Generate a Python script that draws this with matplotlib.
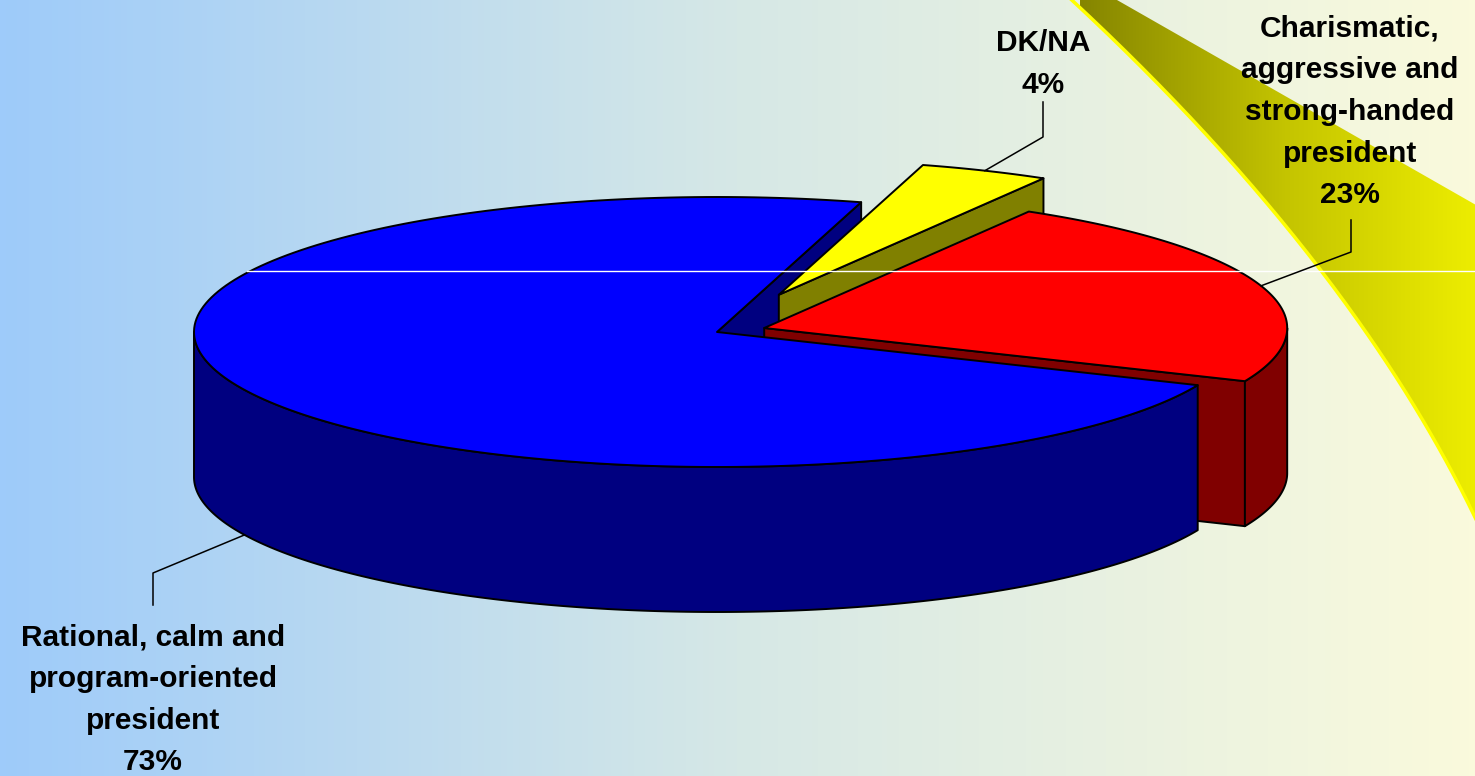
import numpy as np
import matplotlib.pyplot as plt
from matplotlib.patches import Polygon
from matplotlib.colors import LinearSegmentedColormap

labels = ["Rational, calm and\nprogram-oriented\npresident",
          "Charismatic,\naggressive and\nstrong-handed\npresident",
          "DK/NA"]
values = [73, 23, 4]
top_colors = ["#0000ff", "#ff0000", "#ffff00"]
side_colors = ["#000080", "#800000", "#808000"]
explode = [0.0, 0.095, 0.3]

W, H = 1475, 776
cx, cy = 717, 332      # centre of the pie top
rx, ry = 523, 135      # ellipse radii
depth = 145
start = 74.0

plt.rcParams['font.family'] = ['Liberation Sans', 'DejaVu Sans']

fig = plt.figure(figsize=(W / 100, H / 100), dpi=100)
ax = fig.add_axes([0, 0, 1, 1])
ax.axis('off')

# background gradient
bg = LinearSegmentedColormap.from_list('bg', [(0, '#9ecbfa'), (0.5, '#d6e8e6'), (1, '#fafadc')])
ax.imshow(np.linspace(0, 1, 256)[None, :], cmap=bg, extent=[0, W, H, 0], aspect='auto', zorder=0)

# yellow swoosh on the right (smooth curve through points)
ref = np.array([(1080, 0), (1150, 83), (1217, 157), (1283, 233), (1343, 300),
                (1383, 347), (1417, 397), (1450, 463), (1478, 545)])
coef = np.polyfit(ref[:, 1], ref[:, 0], 2)
ys = np.linspace(0, 560, 200)
edge = np.column_stack([np.polyval(coef, ys), ys])
band = np.vstack([edge, [(1490, 560), (1490, 213), (1117, 0)]])
sw = LinearSegmentedColormap.from_list('sw', ['#858500', '#c4c400', '#f0f000'])
im = ax.imshow(np.linspace(0, 1, 256)[None, :], cmap=sw, extent=[1080, 1490, H, 0],
               aspect='auto', zorder=1)
clip = Polygon(band, closed=True, facecolor='none', edgecolor='none')
ax.add_patch(clip)
im.set_clip_path(clip)
ax.plot(edge[:, 0] + 1, edge[:, 1], color='#ffff00', lw=2.5, zorder=2)


def pt(t, ox, oy, dz=0.0):
    r = np.radians(t)
    return np.array([cx + ox + rx * np.cos(r), cy + oy - ry * np.sin(r) + dz])


def arc(t1, t2, ox, oy, dz=0.0, n=200):
    ts = np.linspace(t1, t2, n)
    return np.array([pt(t, ox, oy, dz) for t in ts])


fracs = np.array(values) / sum(values)
theta = start + 360 * np.concatenate([[0], np.cumsum(fracs)])

slices = []
for i in range(len(values)):
    t1, t2 = theta[i], theta[i + 1]
    mid = np.radians((t1 + t2) / 2)
    ox = explode[i] * rx * np.cos(mid)
    oy = -explode[i] * ry * np.sin(mid)
    slices.append((t1, t2, ox, oy))


def poly(pts, fc, z):
    ax.add_patch(Polygon(pts, closed=True, facecolor=fc, edgecolor='black',
                         lw=1.4, joinstyle='round', zorder=z))


def radial_wall(i, z):
    t1, t2, ox, oy = slices[i]
    v = pt(0, ox, oy) - np.array([rx, 0])
    o = pt(t1, ox, oy)
    poly([v, o, o + [0, depth], v + [0, depth]], side_colors[i], z)


def outer_wall(i, z):
    t1, t2, ox, oy = slices[i]
    for k in range(-1, 3):
        a, b = max(t1, 180 + 360 * k), min(t2, 360 + 360 * k)
        if b > a:
            top = arc(a, b, ox, oy)
            bot = arc(a, b, ox, oy, depth)[::-1]
            poly(np.vstack([top, bot]), side_colors[i], z)


def top_face(i, z):
    t1, t2, ox, oy = slices[i]
    v = pt(0, ox, oy) - np.array([rx, 0])
    poly(np.vstack([[v], arc(t1, t2, ox, oy)]), top_colors[i], z)


# back to front
radial_wall(0, 3)
radial_wall(2, 4)
radial_wall(1, 5)
outer_wall(1, 5)
outer_wall(0, 6)
top_face(2, 7)
top_face(1, 8)
top_face(0, 9)

ax.plot([247, W], [271, 271], color='white', lw=1, zorder=10)

# labels with leader lines
txt = dict(ha='center', va='center', fontsize=21.5, fontweight='bold', linespacing=1.62, zorder=11)
ax.text(153, 700, f"{labels[0]}\n{values[0]}%", **txt)
ax.text(1350, 112, f"{labels[1]}\n{values[1]}%", **txt)
ax.text(1043, 64, f"{labels[2]}\n{values[2]}%", **txt)

t1, t2, ox, oy = slices[0]
e = pt((t1 + t2) / 2, ox, oy, depth)
ax.plot([153, 153, e[0]], [605, 573, e[1]], color='black', lw=1.1, zorder=11)
t1, t2, ox, oy = slices[1]
e = pt((t1 + t2) / 2, ox, oy)
ax.plot([1351, 1351, e[0]], [220, 252, e[1]], color='black', lw=1.1, zorder=11)
t1, t2, ox, oy = slices[2]
e = pt((t1 + t2) / 2, ox, oy)
ax.plot([1043, 1043, e[0]], [102, 137, e[1]], color='black', lw=1.1, zorder=11)

ax.set_xlim(0, W)
ax.set_ylim(H, 0)
fig.savefig('out.png', dpi=100)
